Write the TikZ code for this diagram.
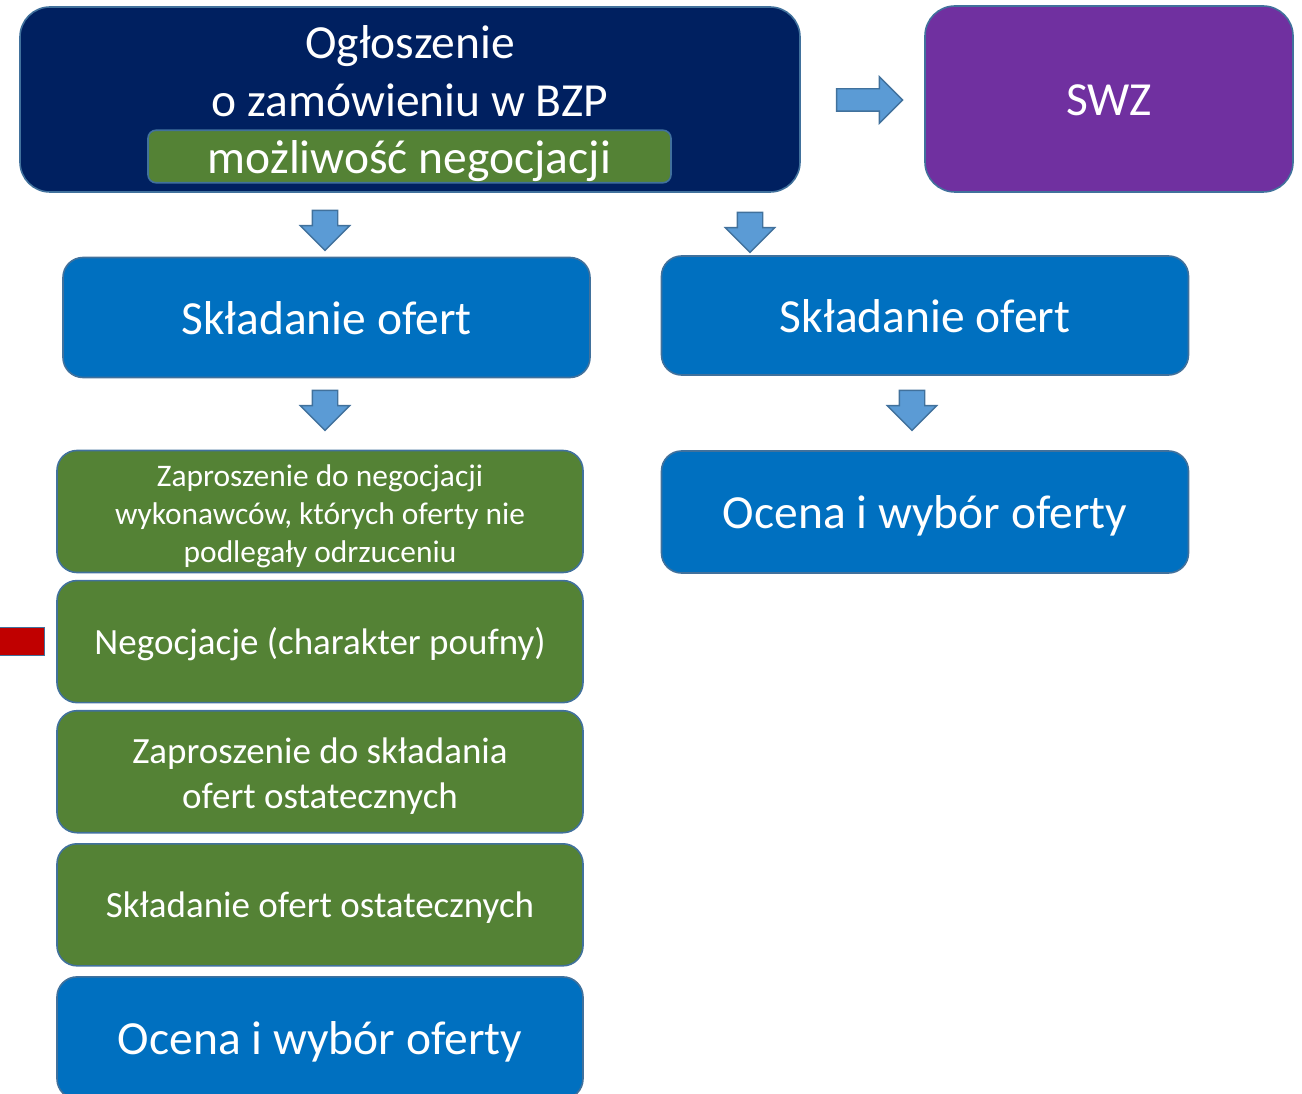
\documentclass[tikz,border=0pt]{standalone}
\usepackage{fontspec}
\setmainfont{Carlito}
\usepackage{tikz}
\usetikzlibrary{positioning, shapes.arrows}
\definecolor{edge-blue}{HTML}{41719C}
\definecolor{ann-navy}{HTML}{002060}
\definecolor{neg-green}{HTML}{548235}
\definecolor{proc-blue}{HTML}{0070C0}
\definecolor{swz-purple}{HTML}{7030A0}
\definecolor{arrow-blue}{HTML}{5B9BD5}
\definecolor{mark-red}{HTML}{C00000}

\begin{document}
\begin{tikzpicture}[x=1pt, y=-1pt,
	box/.style={draw=edge-blue, line width=1.6pt, text=white, align=center, inner sep=0pt},
	big/.style={font=\fontsize{47.5}{58}\selectfont},
	bigline/.style={big, text height=43pt, text depth=9.5pt},
	mid/.style={font=\fontsize{37}{45}\selectfont},
	midline/.style={mid, text height=33.5pt, text depth=7.5pt},
	small/.style={font=\fontsize{31.4}{38}\selectfont},
	bluebox/.style={box, bigline, fill=proc-blue, rounded corners=20pt, minimum width=527pt, minimum height=120pt},
	greenbox/.style={box, fill=neg-green, rounded corners=20pt, minimum width=526pt, minimum height=122pt},
	blockarrow/.style={single arrow, draw=edge-blue, fill=arrow-blue, line width=1.4pt, single arrow head extend=12pt},
	downarrow/.style={blockarrow, inner xsep=12pt, inner ysep=0pt, minimum height=40pt, shape border rotate=270}]
	\useasboundingbox (0,0) rectangle (1302,1094);
	\clip (0,0) rectangle (1302,1094);
	% top row
	\node[box, fill=ann-navy, rounded corners=30pt, minimum width=780pt, minimum height=185pt] (ogl) at (410,99.5) {};
	\node[box, big, draw=none] (ogltext) at (410,71) {Ogłoszenie\\o zamówieniu w BZP};
	\node[box, bigline, fill=neg-green, rounded corners=8pt, minimum width=523pt, minimum height=49pt] (negmozl) at (409.5,156.5) {możliwość negocjacji};
	\node[box, bigline, fill=swz-purple, rounded corners=30pt, minimum width=368pt, minimum height=186pt] (swz) at (1109,99) {SWZ};
	\node[blockarrow, inner ysep=10.5pt, inner xsep=0pt, minimum height=66pt] (toswz) at (864,100) {};
	% left column
	\node[downarrow] (a1) at (325,224) {};
	\node[bluebox] (skl1) at (326.5,317.5) {Składanie ofert};
	\node[downarrow] (a3) at (325,404) {};
	\node[greenbox, small] (zapneg) at (320,511.5) {\rule{0pt}{32pt}Zaproszenie do negocjacji\\wykonawców, których oferty nie\\podlegały odrzuceniu};
	\node[greenbox, midline, below=6.5pt of zapneg] (neg) {Negocjacje (charakter poufny)};
	\node[greenbox, mid, below=6.5pt of neg] (zapost) {\rule{0pt}{34pt}Zaproszenie do składania\\ofert ostatecznych};
	\node[greenbox, midline, below=9.5pt of zapost] (sklost) {Składanie ofert ostatecznych};
	\node[bluebox, minimum width=526pt, minimum height=122pt, below=9.5pt of sklost] (ocena1) {Ocena i wybór oferty};
	\node[box, fill=mark-red, minimum width=60pt, minimum height=28pt, left=11pt of neg] (redbar) {};
	% right column
	\node[downarrow] (a2) at (750,226) {};
	\node[bluebox, minimum height=119pt] (skl2) at (925,315.5) {Składanie ofert};
	\node[downarrow] (a4) at (912,404) {};
	\node[bluebox, minimum height=122pt] (ocena2) at (925,512) {Ocena i wybór oferty};
\end{tikzpicture}
\end{document}
